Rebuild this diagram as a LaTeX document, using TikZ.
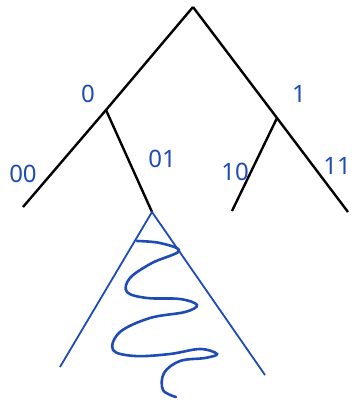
\documentclass[tikz,border=0pt]{standalone}
\usepackage{fontspec}
\setsansfont{Noto Sans}
\usetikzlibrary{positioning}
\definecolor{pen}{RGB}{30,75,180}

\begin{document}
\begin{tikzpicture}[
    x=1pt, y=-1pt,
    edge/.style={line width=2.4pt, black},
    code/.style={text=pen, font=\sffamily\fontsize{24}{26}\selectfont, inner sep=0pt}
  ]
  \useasboundingbox (0,0) rectangle (353,400);

  % tree
  \coordinate (root) at (193,7);
  \coordinate (n0)   at (106,110);
  \coordinate (n1)   at (277,118);
  \coordinate (n00)  at (23,207);
  \coordinate (n01)  at (152,212);
  \coordinate (n10)  at (232,211);
  \coordinate (n11)  at (348,212);
  \draw[edge] (root) -- (n0) -- (n00);
  \draw[edge] (root) -- (n1) -- (n11);
  \draw[edge] (n0) -- (n01);
  \draw[edge] (n1) -- (n10);

  % labels
  \node[code] (l0)  at (88,94)   {0};
  \node[code] (l1)  at (299,94)  {1};
  \node[code] (l00) at (23,174)  {00};
  \node[code] (l01) at (162,159) {01};
  \node[code] (l10) at (235,172) {10};
  \node[code] (l11) at (337,166) {11};

  % subtree below 01
  \coordinate (tl) at (60,367);
  \coordinate (tr) at (265,375);
  \draw[pen, line width=1.8pt] (tl) -- (n01) -- (tr);
  \draw[pen, line width=2.6pt, line cap=round] plot[smooth, tension=0.6] coordinates {
    (137,241) (160,243) (179,251) (152,263) (130,278) (127,292)
    (147,298) (180,299) (197,305) (185,312) (150,318) (120,332)
    (113,350) (135,356) (170,354) (200,349) (217,354) (205,358)
    (180,361) (164,373) (163,390) (176,397)};
\end{tikzpicture}
\end{document}
